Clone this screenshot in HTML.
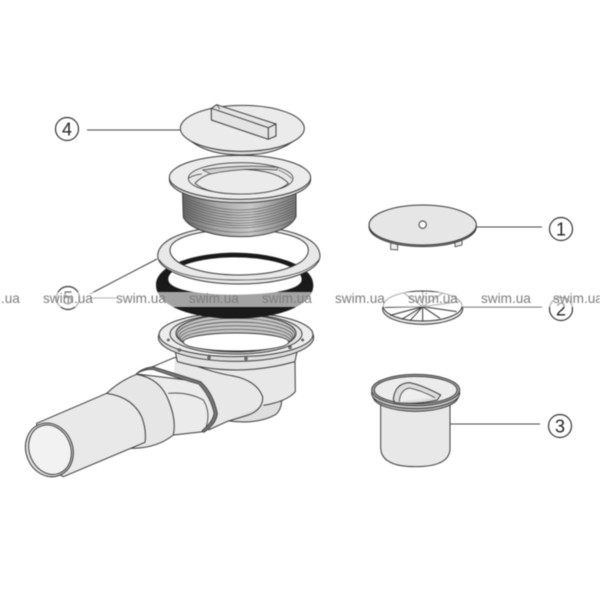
<!DOCTYPE html>
<html><head><meta charset="utf-8">
<style>
html,body{margin:0;padding:0;background:#fff;width:600px;height:600px;overflow:hidden}
svg{display:block;filter:blur(.4px)}
text{font-family:"Liberation Sans",sans-serif}
</style></head><body>
<svg width="600" height="600" viewBox="0 0 600 600" xmlns="http://www.w3.org/2000/svg">
<rect width="600" height="600" fill="#fff"/>
<defs>
<linearGradient id="th" x1="0" y1="0" x2="1" y2="0"><stop offset="0" stop-color="#666"/><stop offset=".3" stop-color="#a5a5a5"/><stop offset=".6" stop-color="#c8c8c8"/><stop offset="1" stop-color="#777"/></linearGradient>
</defs>

<!-- lower assembly (zoom 2 coords) -->
<g transform="translate(0,250) scale(.33333)" stroke="#3a3a3a" stroke-width="3" fill="#e8e8e8" stroke-linejoin="round">
  <path d="M680,512 Q770,525 825,495 Q848,478 845,435 L770,440 Z" fill="#dedede"/>
  <path d="M525,322 L885,325 L886,425 Q860,455 790,466 L680,515 L620,540 L520,400 Z" fill="#e8e8e8" stroke="none"/>
  <path d="M885,325 L886,425 Q860,455 790,466" fill="none"/>
  <path d="M525,322 Q470,345 458,350" fill="none"/>
  <path d="M525,322 Q620,365 700,378 Q770,392 788,440 Q790,478 745,495 L680,515 L625,540" fill="none"/>
  <!-- collar -->
  <path d="M410,372 L600,395 Q655,470 640,520 L612,545 L520,555 L500,440 Z" fill="#ebebeb"/>
  <path d="M505,430 Q565,425 610,450 Q635,490 615,540" fill="none" stroke-width="2.5"/>
  <path d="M408,372 Q425,355 458,350 Q530,372 602,395 Q640,430 652,490 Q650,520 612,547 L606,542 Q640,515 642,488 Q630,438 596,402 Q525,382 458,358 Q430,358 408,372 Z" fill="#777" stroke-width="2.5"/>
  <!-- mid section -->
  <path d="M320,430 Q360,392 410,373 Q480,385 505,450 Q530,510 520,555 Q470,595 395,595 L330,500 Z" fill="#e6e6e6"/>
  <!-- pipe -->
  <path d="M110,520 L320,430 Q395,440 425,500 Q440,540 435,577 L190,680 L110,640 Z" fill="#e9e9e9"/>
  <g transform="rotate(-22 147 597)">
    <ellipse cx="147" cy="600" rx="70" ry="82" fill="#e2e2e2"/>
    <ellipse cx="149" cy="600" rx="62" ry="76" fill="#f2f2f2"/>
  </g>
  <!-- flange -->
  <path d="M525,300 L532,335 Q708,385 885,335 L892,300 Z" fill="#e4e4e4"/>
  <ellipse cx="708" cy="262" rx="233" ry="72" fill="#dcdcdc"/>
  <ellipse cx="708" cy="254" rx="231" ry="66" fill="#ececec"/>
  <ellipse cx="708" cy="252" rx="198" ry="60" fill="#e4e4e4"/>
  <ellipse cx="708" cy="250" rx="180" ry="56" fill="#c4c4c4"/>
  <g fill="none" stroke="#444" stroke-width="2">
    <ellipse cx="708" cy="255" rx="176" ry="50"/>
    <ellipse cx="708" cy="260.5" rx="171" ry="44.5"/>
    <ellipse cx="708" cy="265.5" rx="167" ry="38.5"/>
    <ellipse cx="708" cy="271" rx="162" ry="33"/>
  </g>
  <ellipse cx="708" cy="276" rx="158" ry="27" fill="#fff"/>
  <g fill="#888" stroke-width="2">
    <circle cx="538" cy="300" r="4"/><circle cx="627" cy="323" r="4"/><circle cx="738" cy="326" r="4"/><circle cx="870" cy="292" r="4"/><circle cx="908" cy="270" r="3"/><circle cx="505" cy="270" r="3"/>
  </g>
  <!-- gasket -->
  <path fill-rule="evenodd" d="M468,105 C468,40 600,8 704,8 C810,8 940,40 940,105 C940,170 830,206 704,206 C580,206 468,170 468,105 Z M505,88 C505,120 600,134 704,134 C810,134 905,120 905,88 C905,50 810,22 704,22 C600,22 505,50 505,88 Z" fill="#1a1a1a" stroke="none"/>
</g>

<!-- upper assembly (zoom 1 coords) -->
<g transform="translate(20,90) scale(.33333)" stroke="#3a3a3a" stroke-width="3" fill="#e8e8e8" stroke-linejoin="round">
  <!-- ring -->
  <path fill-rule="evenodd" d="M413,498 C413,440 530,408 657,408 C790,408 900,440 900,498 C900,545 790,582 657,582 C530,582 413,545 413,498 Z M450,480 C450,525 550,555 657,555 C770,555 865,525 865,480 C865,440 770,418 657,418 C550,418 450,440 450,480 Z" fill="#e8e8e8"/>
  <path d="M418,510 C450,555 550,570 657,570 C770,570 860,555 896,510" fill="none" stroke-width="2"/>
  <!-- thread -->
  <path d="M487,290 L490,382 C510,420 590,440 660,440 C735,440 810,420 828,380 L828,290 Z" fill="url(#th)"/>
  <g fill="none" stroke="#555" stroke-width="1.6">
    <path d="M489,320 Q660,400 827,320"/><path d="M489,328 Q660,408 827,328"/><path d="M489,336 Q660,416 827,336"/><path d="M489,344 Q660,424 827,344"/><path d="M489,352 Q660,432 827,352"/><path d="M489,360 Q660,440 827,360"/><path d="M489,368 Q660,446 827,368"/><path d="M489,376 Q660,452 827,376"/><path d="M495,392 Q660,462 822,392"/>
  </g>
  <!-- flange -->
  <ellipse cx="660" cy="268" rx="212" ry="70" fill="#dcdcdc"/>
  <ellipse cx="660" cy="262" rx="212" ry="66" fill="#ececec"/>
  <ellipse cx="662" cy="265" rx="157" ry="47" fill="#e6e6e6" stroke-width="2.5"/>
  <path d="M525,280 Q560,240 662,238 Q770,240 805,280 Q770,312 662,312 Q560,312 525,280 Z" fill="#ebebeb" stroke-width="2.5"/>
  <path d="M548,240 L572,252 Q660,232 770,240 L775,232 Q660,222 548,240 Z" fill="#cfcfcf" stroke-width="2"/>
  <path d="M505,265 Q520,255 545,252" fill="none" stroke-width="2"/>
  <path d="M775,240 Q800,250 815,265" fill="none" stroke-width="2"/>
  <!-- lid -->
  <path d="M490,130 Q540,195 667,195 Q790,195 845,130 Z" fill="#dcdcdc"/>
  <path d="M500,135 Q550,180 667,183 Q780,180 835,135" fill="none" stroke-width="2"/>
  <ellipse cx="667" cy="115" rx="186" ry="69" fill="#ebebeb"/>
  <path d="M574,55 L590,44 L768,102 L768,138 L745,148 L574,90 Z" fill="#e4e4e4"/>
  <path d="M574,55 L745,113 L745,148" fill="none"/>
  <path d="M745,113 L768,102" fill="none"/>
  <path d="M590,44 L598,54 L598,58" fill="none" stroke-width="2"/>
</g>

<!-- leader lines and labels -->
<g stroke="#444" stroke-width="1" fill="none">
  <line x1="87" y1="130" x2="180" y2="130"/>
  <line x1="90" y1="294" x2="157" y2="259"/>
  <line x1="476" y1="227" x2="542" y2="227"/>
  <line x1="450" y1="424" x2="540" y2="424"/>
  <line x1="462" y1="307" x2="542" y2="307"/>
  <line x1="90" y1="298" x2="116" y2="298"/>
</g>

<!-- disc 1 -->
<g transform="translate(330,190) scale(.33333)" stroke="#3a3a3a" stroke-width="3" fill="#e8e8e8" stroke-linejoin="round">
  <path d="M182,155 L182,178 L203,180 L203,158 Z M375,155 L375,170 L396,165 L396,148 Z" fill="#eee" stroke-width="2.5"/>
  <ellipse cx="278" cy="110" rx="161" ry="60" fill="#888"/>
  <ellipse cx="278" cy="105" rx="161" ry="60" fill="#e6e6e6"/>
  <circle cx="278" cy="104" r="11" fill="#fff"/>
</g>

<!-- strainer 2 -->
<g transform="translate(330,190) scale(.33333)" stroke="#333" stroke-width="3" fill="none">
  <ellipse cx="278" cy="357" rx="120" ry="46" fill="#e6e6e6"/>
  <ellipse cx="278" cy="348" rx="118" ry="45" fill="#fff"/>
  <g stroke-width="3">
    <line x1="278" y1="350" x2="278" y2="392"/><line x1="278" y1="350" x2="330" y2="385"/><line x1="278" y1="350" x2="380" y2="365"/>
    <line x1="278" y1="350" x2="165" y2="352"/><line x1="278" y1="350" x2="180" y2="376"/><line x1="278" y1="350" x2="215" y2="388"/><line x1="278" y1="350" x2="240" y2="392"/>
    <line x1="278" y1="350" x2="278" y2="304"/><line x1="278" y1="350" x2="340" y2="308"/><line x1="278" y1="350" x2="220" y2="308"/><line x1="278" y1="350" x2="390" y2="335"/>
  </g>
</g>

<!-- cup 3 -->
<g transform="translate(350,360) scale(.33333)" stroke="#3a3a3a" stroke-width="3" fill="#e8e8e8" stroke-linejoin="round">
  <path d="M92,130 L92,265 Q95,320 195,320 Q300,320 300,265 L300,130 Z" fill="#e8e8e8"/>
  <ellipse cx="197" cy="108" rx="128" ry="46" fill="#b5b5b5"/>
  <ellipse cx="197" cy="100" rx="132" ry="46" fill="#c4c4c4"/>
  <ellipse cx="197" cy="90" rx="132" ry="47" fill="#aaa"/>
  <ellipse cx="197" cy="90" rx="124" ry="41" fill="#ececec"/>
  <path d="M130,118 Q135,70 178,68 Q215,75 272,105 L262,120 Q200,135 135,128 Z" fill="#dcdcdc"/>
  <path d="M148,125 Q150,90 178,84 Q210,90 255,113" fill="#eee" stroke-width="2.5"/>
</g>

<!-- circled numbers -->
<g fill="#fff" stroke="#333" stroke-width="1.2">
  <circle cx="67" cy="129" r="11.5"/>
  <circle cx="68" cy="298" r="11.5"/>
  <circle cx="561" cy="229" r="11.5"/>
  <circle cx="561" cy="309" r="11.5"/>
  <circle cx="560" cy="426" r="11.5"/>
</g>
<g fill="#222" font-size="18" text-anchor="middle">
  <text x="67" y="135.5">4</text>
  <text x="68" y="304.5">5</text>
  <text x="561" y="235.5">1</text>
  <text x="561" y="315.5">2</text>
  <text x="560" y="432.5">3</text>
</g>

<!-- watermark band -->
<rect x="0" y="292" width="600" height="15" fill="#fff" fill-opacity=".6"/>
<g fill="#7c7c7c" font-size="13.6">
  <text x="-30" y="303">swim.ua</text>
  <text x="43" y="303">swim.ua</text>
  <text x="116" y="303">swim.ua</text>
  <text x="189" y="303">swim.ua</text>
  <text x="262" y="303">swim.ua</text>
  <text x="335" y="303">swim.ua</text>
  <text x="408" y="303">swim.ua</text>
  <text x="481" y="303">swim.ua</text>
  <text x="553" y="303">swim.ua</text>
</g>
</svg>
</body></html>
